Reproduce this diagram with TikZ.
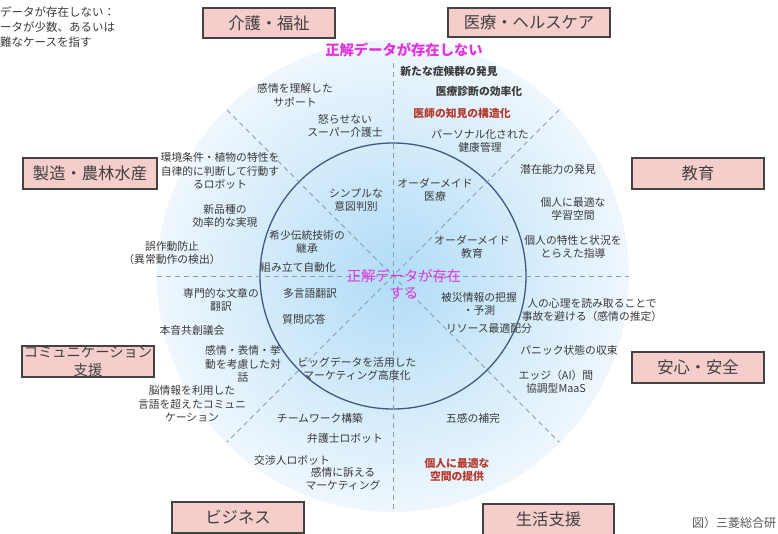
\documentclass[tikz,border=0pt]{standalone}
\usepackage{fontspec}
\setmainfont{Noto Sans CJK JP}
\usetikzlibrary{calc}
\definecolor{txt}{HTML}{3A3A3A}
\definecolor{redtxt}{HTML}{B5382C}
\definecolor{magtxt}{HTML}{E433DE}
\definecolor{bluein}{HTML}{B0DCF7}
\definecolor{blueout}{HTML}{EFF7FD}
\definecolor{ringcol}{HTML}{3F5A85}
\definecolor{dashcol}{HTML}{8C9BB0}
\definecolor{boxfill}{HTML}{F5CDCB}
\definecolor{boxline}{HTML}{434343}
\definecolor{cattxt}{HTML}{404040}
\tikzset{
  lbl/.style={font=\fontsize{10.8}{13.5}\selectfont, text=txt, align=center, inner sep=0pt},
  lblred/.style={lbl, text=redtxt, font=\fontsize{10.8}{13.5}\selectfont\bfseries},
  lblbold/.style={lbl, font=\fontsize{10.8}{13.5}\selectfont\bfseries},
  magtitle/.style={font=\fontsize{14.3}{17}\selectfont, text=magtxt, align=center, inner sep=0pt},
  catbox/.style={draw=boxline, fill=boxfill, line width=1.2pt, minimum width=132pt, minimum height=30pt,
    font=\fontsize{16.3}{18}\selectfont, text=cattxt, inner sep=0pt},
  divline/.style={draw=dashcol, dash pattern=on 5pt off 4pt, line width=0.9pt},
  innerring/.style={draw=ringcol, line width=1.3pt},
  note/.style={font=\fontsize{11.5}{15}\selectfont, text=txt, align=left, inner sep=0pt},
}
\begin{document}
\begin{tikzpicture}[x=1pt,y=-1pt]
\useasboundingbox (0,0) rectangle (778,533);
\clip (0,0) rectangle (778,533);
\coordinate (C) at (393,276);
% background circles
\shade[inner color=bluein, outer color=blueout] (C) circle (236pt);
\draw[innerring] (C) circle (133pt);
% dividing lines
\coordinate (hl) at (157,276);
\coordinate (hr) at (629,276);
\coordinate (vt) at (393,63);
\coordinate (vb) at (393,511);
\coordinate (d1) at (559.2,109.8);
\coordinate (d2) at (226.8,109.8);
\coordinate (d3) at (226.8,442.2);
\coordinate (d4) at (559.2,442.2);
\draw[divline] (hl) -- (hr);
\draw[divline] (vt) -- (vb);
\draw[divline] (d1) -- (d3);
\draw[divline] (d2) -- (d4);

% category boxes
\node[catbox] (kaigo) at (269,23) {介護・福祉};
\node[catbox, minimum width=162pt, minimum height=29pt] (iryo) at (529,22.5) {医療・ヘルスケア};
\node[catbox, minimum height=31pt] (kyoiku) at (698,173.5) {教育};
\node[catbox, minimum width=134pt, minimum height=31pt] (seizo) at (90,173.5) {製造・農林水産};
\node[catbox, minimum height=31pt] (anshin) at (698,367.5) {安心・安全};
\node[catbox, minimum height=31pt] (biz) at (238,517.5) {ビジネス};
\node[catbox, minimum width=131pt, minimum height=31pt] (seikatsu) at (548.5,519.5) {生活支援};
\node[catbox, minimum height=31pt] (comm) at (88,361.5) {};
\node[font=\fontsize{14.3}{18}\selectfont, text=cattxt, align=center, inner sep=0pt] (commtxt) at (88,361) {コミュニケーション\\支援};

% titles
\node[magtitle, font=\fontsize{14.3}{17}\selectfont\bfseries] (top) at (404,50) {正解データが存在しない};
\node[magtitle] (center) at (404,284) {正解データが存在\\する};

% notes
\node[note, anchor=west] (note) at (0,27) {データが存在しない：\\ータが少数、あるいは\\難なケースを指す};
\node[font=\fontsize{12}{14}\selectfont, text=txt!85, anchor=west, inner sep=0pt] (credit) at (692,523) {図）三菱総合研};

% medical / healthcare
\node[lblbold] (m1) at (449,71) {新たな症候群の発見};
\node[lblbold] (m2) at (479,91) {医療診断の効率化};
\node[lblred] (m3) at (462,113) {医師の知見の構造化};
\node[lbl] (m4) at (480,141) {パーソナル化された\\健康管理};
\node[lbl] (m5) at (435,190) {オーダーメイド\\医療};

% care / welfare
\node[lbl] (k1) at (295,95) {感情を理解した\\サポート};
\node[lbl] (k2) at (345,126) {怒らせない\\スーパー介護士};
\node[lbl] (k3) at (356,200) {シンプルな\\意図判別};

% manufacturing
\node[lbl] (s1) at (220,171) {環境条件・植物の特性を\\自律的に判断して行動す\\るロボット};
\node[lbl] (s2) at (225,216) {新品種の\\効率的な実現};
\node[lbl] (s3) at (172,253) {誤作動防止\\（異常動作の検出）};
\node[lbl] (s4) at (307,242) {希少伝統技術の\\継承};
\node[lbl] (s5) at (298,267) {組み立て自動化};

% education
\node[lbl] (e1) at (558,169) {潜在能力の発見};
\node[lbl] (e2) at (573,209) {個人に最適な\\学習空間};
\node[lbl] (e3) at (573,247) {個人の特性と状況を\\とらえた指導};
\node[lbl] (e4) at (472,247) {オーダーメイド\\教育};

% communication
\node[lbl] (c1) at (221,300) {専門的な文章の\\翻訳};
\node[lbl] (c2) at (192,330) {本音共創議会};
\node[lbl] (c3) at (243,364) {感情・表情・挙\\動を考慮した対\\話};
\node[lbl] (c4) at (192,404) {脳情報を利用した\\言語を超えたコミュニ\\ケーション};
\node[lbl] (c5) at (310,293) {多言語翻訳};
\node[lbl] (c6) at (304,319) {質問応答};

% safety
\node[lbl] (a1) at (479,304) {被災情報の把握\\・予測};
\node[lbl] (a2) at (489,328) {リソース最適配分};
\node[lbl] (a3) at (592,310) {人の心理を読み取ることで\\事故を避ける（感情の推定）};
\node[lbl] (a4) at (569,350) {パニック状態の収束};
\node[lbl] (a5) at (556,382) {エッジ（AI）間\\協調型MaaS};

% business
\node[lbl] (b1) at (357,369) {ビッグデータを活用した\\マーケティング高度化};
\node[lbl] (b2) at (320,418) {チームワーク構築};
\node[lbl] (b3) at (345,438) {弁護士ロボット};
\node[lbl] (b4) at (292,460) {交渉人ロボット};
\node[lbl] (b5) at (343,479) {感情に訴える\\マーケティング};

% living support
\node[lbl] (l1) at (473,418) {五感の補完};
\node[lblred] (l2) at (457,470) {個人に最適な\\空間の提供};
\end{tikzpicture}
\end{document}
